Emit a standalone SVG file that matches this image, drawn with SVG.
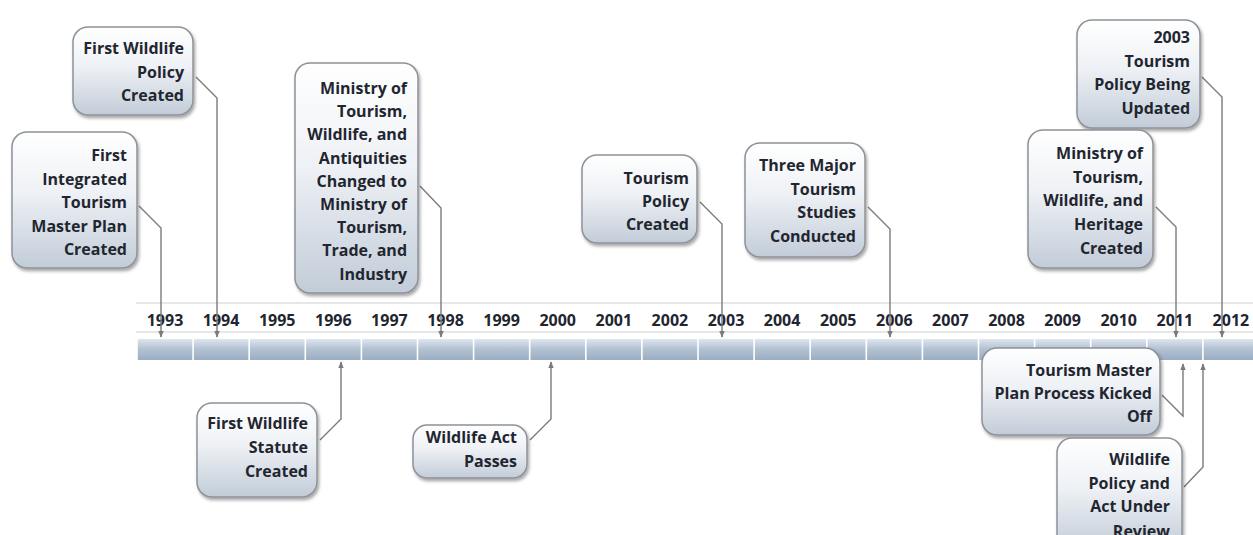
<svg xmlns="http://www.w3.org/2000/svg" width="1253" height="535" viewBox="0 0 1253 535">
  <defs>
    <linearGradient id="boxFill" x1="0" y1="0" x2="0" y2="1">
      <stop offset="0" stop-color="#ffffff"/>
      <stop offset="0.45" stop-color="#eef1f5"/>
      <stop offset="1" stop-color="#c2ccd8"/>
    </linearGradient>
    <linearGradient id="barFill" x1="0" y1="0" x2="0" y2="1">
      <stop offset="0" stop-color="#dfe6ee"/>
      <stop offset="0.45" stop-color="#b4c3d3"/>
      <stop offset="1" stop-color="#9aadc2"/>
    </linearGradient>
    <filter id="shadow" x="-10%" y="-10%" width="125%" height="125%">
      <feDropShadow dx="1.5" dy="2.5" stdDeviation="1.8" flood-color="#000000" flood-opacity="0.35"/>
    </filter>
    <marker id="arrow" viewBox="0 0 10 10" refX="9" refY="5" markerWidth="7" markerHeight="7" orient="auto" markerUnits="userSpaceOnUse">
      <path d="M0,1 L10,5 L0,9 Z" fill="#7a7a7a"/>
    </marker>
  </defs>
  <style>
    .box { fill: url(#boxFill); stroke: #8d9299; stroke-width: 1.5; filter: url(#shadow); }
    .label { font-family: "Open Sans", "Liberation Sans", sans-serif; font-weight: 700; font-size: 16px; fill: #1f2630; text-anchor: end; }
    .year { font-family: "Open Sans", "Liberation Sans", sans-serif; font-weight: 700; font-size: 16px; fill: #1f2630; text-anchor: middle; }
    .rule { stroke: #cfcfcf; stroke-width: 1.2; }
    .seg { fill: url(#barFill); }
    .conn { fill: none; stroke: #7a7a7a; stroke-width: 1.4; }
  </style>

  <rect width="1253" height="535" fill="#ffffff"/>

  <!-- timeline axis -->
  <g id="axis">
    <line class="rule" x1="136" y1="303" x2="1253" y2="303"/>
    <line class="rule" x1="136" y1="332" x2="1253" y2="332"/>
    <g id="bar">
      <rect class="seg" x="137.8" y="339" width="54.5" height="21"/>
      <rect class="seg" x="193.9" y="339" width="54.5" height="21"/>
      <rect class="seg" x="250" y="339" width="54.5" height="21"/>
      <rect class="seg" x="306.1" y="339" width="54.5" height="21"/>
      <rect class="seg" x="362.2" y="339" width="54.5" height="21"/>
      <rect class="seg" x="418.3" y="339" width="54.5" height="21"/>
      <rect class="seg" x="474.4" y="339" width="54.5" height="21"/>
      <rect class="seg" x="530.5" y="339" width="54.5" height="21"/>
      <rect class="seg" x="586.6" y="339" width="54.5" height="21"/>
      <rect class="seg" x="642.7" y="339" width="54.5" height="21"/>
      <rect class="seg" x="698.8" y="339" width="54.5" height="21"/>
      <rect class="seg" x="754.9" y="339" width="54.5" height="21"/>
      <rect class="seg" x="811" y="339" width="54.5" height="21"/>
      <rect class="seg" x="867.1" y="339" width="54.5" height="21"/>
      <rect class="seg" x="923.2" y="339" width="54.5" height="21"/>
      <rect class="seg" x="979.3" y="339" width="54.5" height="21"/>
      <rect class="seg" x="1035.4" y="339" width="54.5" height="21"/>
      <rect class="seg" x="1091.5" y="339" width="54.5" height="21"/>
      <rect class="seg" x="1147.6" y="339" width="54.5" height="21"/>
      <rect class="seg" x="1203.7" y="339" width="54.5" height="21"/>
    </g>
    <g id="years">
      <text class="year" x="165" y="326">1993</text>
      <text class="year" x="221.1" y="326">1994</text>
      <text class="year" x="277.2" y="326">1995</text>
      <text class="year" x="333.3" y="326">1996</text>
      <text class="year" x="389.4" y="326">1997</text>
      <text class="year" x="445.5" y="326">1998</text>
      <text class="year" x="501.6" y="326">1999</text>
      <text class="year" x="557.7" y="326">2000</text>
      <text class="year" x="613.8" y="326">2001</text>
      <text class="year" x="669.9" y="326">2002</text>
      <text class="year" x="726" y="326">2003</text>
      <text class="year" x="782.1" y="326">2004</text>
      <text class="year" x="838.2" y="326">2005</text>
      <text class="year" x="894.3" y="326">2006</text>
      <text class="year" x="950.4" y="326">2007</text>
      <text class="year" x="1006.5" y="326">2008</text>
      <text class="year" x="1062.6" y="326">2009</text>
      <text class="year" x="1118.7" y="326">2010</text>
      <text class="year" x="1174.8" y="326">2011</text>
      <text class="year" x="1230.9" y="326">2012</text>
    </g>
  </g>

  <!-- connectors from callouts to the timeline -->
  <g id="connectors">
    <path class="conn" d="M139,206 L161,228 L161,337" marker-end="url(#arrow)"/>
    <path class="conn" d="M196,77 L217,98 L217,337" marker-end="url(#arrow)"/>
    <path class="conn" d="M420,186 L441,208 L441,337" marker-end="url(#arrow)"/>
    <path class="conn" d="M700,202 L722,224 L722,337" marker-end="url(#arrow)"/>
    <path class="conn" d="M868,207 L890,229 L890,337" marker-end="url(#arrow)"/>
    <path class="conn" d="M1202,77 L1222,97 L1222,337" marker-end="url(#arrow)"/>
    <path class="conn" d="M1156,207 L1176,227 L1176,337" marker-end="url(#arrow)"/>
    <path class="conn" d="M320,440 L341,419 L341,362" marker-end="url(#arrow)"/>
    <path class="conn" d="M530,440 L551,419 L551,362" marker-end="url(#arrow)"/>
    <path class="conn" d="M1162,395 L1183,416 L1183,364" marker-end="url(#arrow)"/>
    <path class="conn" d="M1184,487 L1203,467 L1203,364" marker-end="url(#arrow)"/>
  </g>

  <!-- callouts above the axis -->
  <g id="n1993">
    <rect class="box" x="12" y="132" width="125" height="136" rx="15"/>
    <text class="label" x="127" y="161">First</text>
    <text class="label" x="127" y="184.5">Integrated</text>
    <text class="label" x="127" y="208">Tourism</text>
    <text class="label" x="127" y="231.5">Master Plan</text>
    <text class="label" x="127" y="255">Created</text>
  </g>
  <g id="n1994">
    <rect class="box" x="73" y="27" width="120" height="88" rx="15"/>
    <text class="label" x="184" y="54">First Wildlife</text>
    <text class="label" x="184" y="77.5">Policy</text>
    <text class="label" x="184" y="101">Created</text>
  </g>
  <g id="n1998">
    <rect class="box" x="295" y="63" width="123" height="230" rx="15"/>
    <text class="label" x="407" y="94">Ministry of</text>
    <text class="label" x="407" y="117.2">Tourism,</text>
    <text class="label" x="407" y="140.4">Wildlife, and</text>
    <text class="label" x="407" y="163.6">Antiquities</text>
    <text class="label" x="407" y="186.8">Changed to</text>
    <text class="label" x="407" y="210">Ministry of</text>
    <text class="label" x="407" y="233.2">Tourism,</text>
    <text class="label" x="407" y="256.4">Trade, and</text>
    <text class="label" x="407" y="279.6">Industry</text>
  </g>
  <g id="n2003">
    <rect class="box" x="582" y="155" width="115" height="88" rx="15"/>
    <text class="label" x="689" y="184">Tourism</text>
    <text class="label" x="689" y="207">Policy</text>
    <text class="label" x="689" y="230">Created</text>
  </g>
  <g id="n2006">
    <rect class="box" x="745" y="143" width="120" height="114" rx="15"/>
    <text class="label" x="856" y="171">Three Major</text>
    <text class="label" x="856" y="194.5">Tourism</text>
    <text class="label" x="856" y="218">Studies</text>
    <text class="label" x="856" y="241.5">Conducted</text>
  </g>
  <g id="n2012">
    <rect class="box" x="1077" y="20" width="123" height="108" rx="15"/>
    <text class="label" x="1190" y="43">2003</text>
    <text class="label" x="1190" y="66.5">Tourism</text>
    <text class="label" x="1190" y="90">Policy Being</text>
    <text class="label" x="1190" y="113.5">Updated</text>
  </g>
  <g id="n2011">
    <rect class="box" x="1028" y="130" width="125" height="138" rx="15"/>
    <text class="label" x="1143" y="159">Ministry of</text>
    <text class="label" x="1143" y="182.7">Tourism,</text>
    <text class="label" x="1143" y="206.4">Wildlife, and</text>
    <text class="label" x="1143" y="230.1">Heritage</text>
    <text class="label" x="1143" y="253.8">Created</text>
  </g>

  <!-- callouts below the axis -->
  <g id="n1996">
    <rect class="box" x="197" y="403" width="120" height="94" rx="15"/>
    <text class="label" x="308" y="429">First Wildlife</text>
    <text class="label" x="308" y="453">Statute</text>
    <text class="label" x="308" y="477">Created</text>
  </g>
  <g id="n2000">
    <rect class="box" x="413" y="425" width="114" height="53" rx="14"/>
    <text class="label" x="517" y="443">Wildlife Act</text>
    <text class="label" x="517" y="467">Passes</text>
  </g>
  <g id="n2011b">
    <rect class="box" x="982" y="348" width="178" height="87" rx="15"/>
    <text class="label" x="1152" y="376">Tourism Master</text>
    <text class="label" x="1152" y="399">Plan Process Kicked</text>
    <text class="label" x="1152" y="422">Off</text>
  </g>
  <g id="n2012b">
    <rect class="box" x="1057" y="438" width="125" height="112" rx="15"/>
    <text class="label" x="1170" y="465">Wildlife</text>
    <text class="label" x="1170" y="488.5">Policy and</text>
    <text class="label" x="1170" y="512">Act Under</text>
    <text class="label" x="1170" y="537">Review</text>
  </g>
</svg>
